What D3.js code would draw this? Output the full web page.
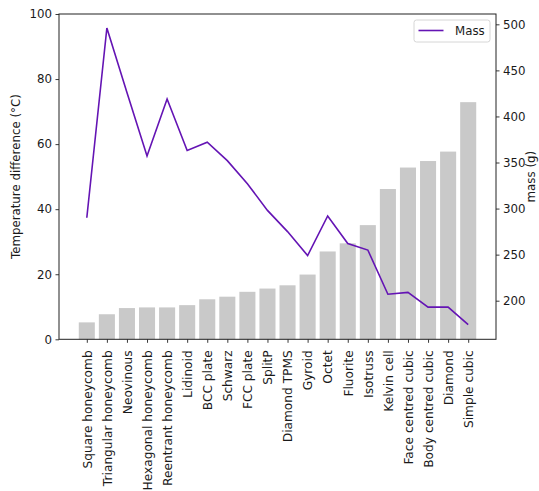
<!DOCTYPE html>
<html>
<head>
<meta charset="utf-8">
<script src="https://cdn.jsdelivr.net/npm/d3@7"></script>
<style>
  body { margin: 0; background: #fff; }
  svg { display: block; }
  text { font-family: "DejaVu Sans", sans-serif; fill: #1a1a1a; }
</style>
</head>
<body>
<script>
const categories = ["Square honeycomb","Triangular honeycomb","Neovinous","Hexagonal honeycomb","Reentrant honeycomb","Lidinoid","BCC plate","Schwarz","FCC plate","SplitP","Diamond TPMS","Gyroid","Octet","Fluorite","Isotruss","Kelvin cell","Face centred cubic","Body centred cubic","Diamond","Simple cubic"];
const tempDiff = [5.2, 7.7, 9.6, 9.8, 9.8, 10.5, 12.3, 13.1, 14.6, 15.6, 16.6, 19.9, 27.0, 29.5, 35.1, 46.2, 52.8, 54.8, 57.7, 72.9];
const mass = [290, 496, 426, 357, 419, 363, 372, 352, 327, 298, 275, 249, 292, 262, 255, 207, 209, 193, 193, 174];
const leftTicks = [0, 20, 40, 60, 80, 100];
const rightTicks = [200, 250, 300, 350, 400, 450, 500];

const W = 539, H = 491;
const L = 59, R = 496, T = 14, B = 339.3;
const svg = d3.select("body").append("svg").attr("width", W).attr("height", H);

const n = categories.length;
const x = d3.scaleLinear().domain([-1.385, n - 1 + 1.385]).range([L, R]);
const yL = d3.scaleLinear().domain([0, 100]).range([B, T]);
const yR = d3.scaleLinear().domain([158.1, 511.2]).range([B, T]);
const bw = 0.8;

// bars
svg.append("g").selectAll("rect").data(tempDiff).join("rect")
  .attr("x", (d, i) => x(i - bw / 2))
  .attr("width", x(bw) - x(0))
  .attr("y", d => yL(d))
  .attr("height", d => yL(0) - yL(d))
  .attr("fill", "#c9c9c9");

// line
const line = d3.line().x((d, i) => x(i)).y(d => yR(d));
svg.append("path").datum(mass)
  .attr("d", line)
  .attr("fill", "none")
  .attr("stroke", "#6414b4")
  .attr("stroke-width", 1.6)
  .attr("stroke-linejoin", "miter");

// axes
const fs = "11.8px";
const axL = svg.append("g").attr("transform", `translate(${L},0)`)
  .call(d3.axisLeft(yL).tickValues(leftTicks).tickSize(3.5).tickPadding(3.5));
const axR = svg.append("g").attr("transform", `translate(${R},0)`)
  .call(d3.axisRight(yR).tickValues(rightTicks).tickSize(3.5).tickPadding(3.5));
const axB = svg.append("g").attr("transform", `translate(0,${B})`)
  .call(d3.axisBottom(x).tickValues(d3.range(n)).tickFormat(i => categories[i]).tickSize(3.5).tickPadding(3.5));

[axL, axR, axB].forEach(a => {
  a.select(".domain").remove();
  a.selectAll("line").attr("stroke", "#222").attr("stroke-width", 0.9);
  a.selectAll("text").style("font-size", fs).style("font-family", "DejaVu Sans").attr("fill", "#1a1a1a");
});
axB.selectAll("text")
  .style("font-size", "12.2px")
  .attr("text-anchor", "end")
  .attr("dy", "0.35em")
  .attr("transform", "rotate(-90)")
  .attr("x", -11)
  .attr("y", 0);

// frame
svg.append("rect").attr("x", L).attr("y", T).attr("width", R - L).attr("height", B - T)
  .attr("fill", "none").attr("stroke", "#222").attr("stroke-width", 1);

// axis labels
svg.append("text").attr("transform", `translate(16,${(T + B) / 2}) rotate(-90)`)
  .attr("text-anchor", "middle").attr("dy", "0.35em").style("font-size", fs)
  .text("Temperature difference (°C)");
svg.append("text").attr("transform", `translate(531,${(T + B) / 2}) rotate(-90)`)
  .attr("text-anchor", "middle").attr("dy", "0.35em").style("font-size", fs)
  .text("mass (g)");

// legend
const lg = svg.append("g");
lg.append("rect").attr("x", 414).attr("y", 20).attr("width", 76).attr("height", 22)
  .attr("rx", 2.5).attr("fill", "#fff").attr("fill-opacity", 0.8)
  .attr("stroke", "#d6d6d6").attr("stroke-width", 1);
lg.append("line").attr("x1", 418.5).attr("x2", 443.5).attr("y1", 30.5).attr("y2", 30.5)
  .attr("stroke", "#6414b4").attr("stroke-width", 1.6);
lg.append("text").attr("x", 455).attr("y", 31).attr("dy", "0.35em").style("font-size", fs).text("Mass");
</script>
</body>
</html>
